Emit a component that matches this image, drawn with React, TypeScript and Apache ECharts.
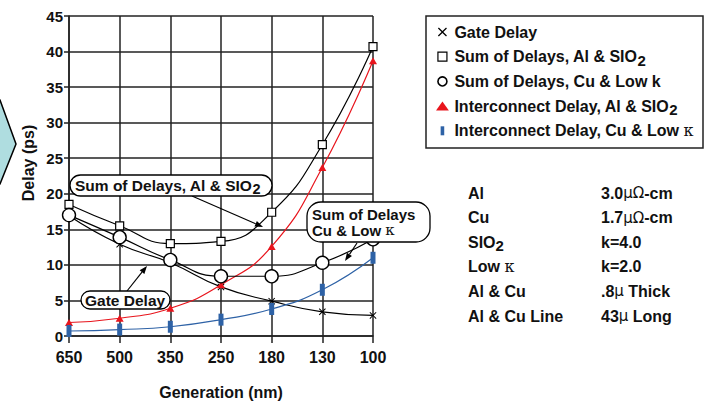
import React, { useEffect, useRef } from 'react';
import * as echarts from 'echarts';

const categories = ['650', '500', '350', '250', '180', '130', '100'];
const gateDelay = [16.9, 12.9, 10.3, 6.9, 4.9, 3.4, 2.9];
const sumAlSiO2 = [18.5, 15.5, 13.0, 13.3, 17.4, 26.9, 40.7];
const sumCuLowK = [17.0, 13.9, 10.7, 8.4, 8.4, 10.3, 13.6];
const interAlSiO2 = [1.9, 2.5, 3.9, 7.2, 12.6, 23.7, 38.7];
const interCuLowK = [0.7, 0.9, 1.3, 2.3, 3.8, 6.5, 11.0];

const seriesNames = [
  'Gate Delay',
  'Sum of Delays, Al & SIO2',
  'Sum of Delays, Cu & Low k',
  'Interconnect Delay, Al & SIO2',
  'Interconnect Delay, Cu & Low κ',
];

const tableLabels = ['Al', 'Cu', 'SIO{sub|2}', 'Low {k|κ}', 'Al & Cu', 'Al & Cu Line'];
const tableValues = ['3.0{m|μΩ}-cm', '1.7{m|μΩ}-cm', 'k=4.0', 'k=2.0', '.8{m|μ} Thick', '43{m|μ} Long'];

const FONT = '"Liberation Sans", Arial, Helvetica, sans-serif';
const RED = '#e8151d';
const BLUE = '#2e62a6';
const XPATH = 'path://M0,1L1,0L5,4L9,0L10,1L6,5L10,9L9,10L5,6L1,10L0,9L4,5Z';

const richBase = (size: number, lh: number) => ({
  sub: { fontSize: size - 1, fontWeight: 'bold', fontFamily: FONT, color: '#111', lineHeight: lh - 7, padding: [7, 0, 0, 0] },
  k: { fontSize: size, fontWeight: 'normal', fontFamily: '"DejaVu Serif", serif', color: '#111', lineHeight: lh },
  m: { fontSize: size - 1, fontWeight: 'normal', fontFamily: '"DejaVu Sans", sans-serif', color: '#333', lineHeight: lh },
});

function arrow(x1: number, y1: number, x2: number, y2: number): any[] {
  const ang = Math.atan2(y2 - y1, x2 - x1);
  const L = 8, W = 3;
  const bx = x2 - L * Math.cos(ang), by = y2 - L * Math.sin(ang);
  const px = -Math.sin(ang) * W, py = Math.cos(ang) * W;
  return [
    { type: 'line', z: 100, shape: { x1, y1, x2: bx, y2: by }, style: { stroke: '#000', lineWidth: 1.2 } },
    { type: 'polygon', z: 100, shape: { points: [[x2, y2], [bx + px, by + py], [bx - px, by - py]] }, style: { fill: '#000' } },
  ];
}

function pill(x: number, y: number, w: number, h: number, text: string, tx: number, lh: number, size: number): any[] {
  return [
    { type: 'rect', z: 100, shape: { x, y, width: w, height: h, r: Math.min(h / 2, 14) }, style: { fill: '#fff', stroke: '#000', lineWidth: 1.3 } },
    {
      type: 'text', z: 101, x: tx, y: y + h / 2,
      style: {
        text, fill: '#111', fontSize: size, fontWeight: 'bold', fontFamily: FONT, lineHeight: lh,
        align: 'left', verticalAlign: 'middle', rich: richBase(size, lh),
      },
    },
  ];
}

export default function App() {
  const ref = useRef<HTMLDivElement>(null);
  useEffect(() => {
    document.body.style.margin = '0';
    const chart = echarts.init(ref.current!, null, { renderer: 'svg' });
    const lineW = 1.2;
    const graphic: any[] = [
      {
        type: 'polygon',
        shape: { points: [[-10, 100], [0, 100], [16, 144], [0, 184], [-10, 184]] },
        style: { fill: '#afdde0', stroke: '#000', lineWidth: 1.5 },
      },
      {
        type: 'text', x: 28, y: 163, rotation: Math.PI / 2,
        style: { text: 'Delay (ps)', fontSize: 16, fontWeight: 'bold', fontFamily: FONT, fill: '#111', align: 'center', verticalAlign: 'middle' },
      },
      {
        type: 'rect', shape: { x: 426, y: 16, width: 277, height: 132 },
        style: { fill: 'none', stroke: '#222', lineWidth: 1.5 },
      },
      ...tableLabels.map((t, i) => ({
        type: 'text', x: 468, y: 193 + i * 24.6,
        style: { text: t, fontSize: 16, fontWeight: 'bold', fontFamily: FONT, fill: '#111', lineHeight: 22, align: 'left', verticalAlign: 'middle', rich: richBase(16, 22) },
      })),
      ...tableValues.map((t, i) => ({
        type: 'text', x: 601, y: 193 + i * 24.6,
        style: { text: t, fontSize: 16, fontWeight: 'bold', fontFamily: FONT, fill: '#111', lineHeight: 22, align: 'left', verticalAlign: 'middle', rich: richBase(16, 22) },
      })),
      ...arrow(192, 196, 263, 227),
      ...arrow(127, 291, 147, 266),
      ...arrow(357, 243, 345, 261),
      ...pill(70, 175, 202, 21, 'Sum of Delays, Al & SIO{sub|2}', 75, 20, 15.5),
      ...pill(81, 291, 89, 18, 'Gate Delay', 85, 18, 15.5),
      ...pill(307, 202, 123, 40, 'Sum of Delays\nCu & Low {k|κ}', 312, 16, 15),
    ];

    const option: any = {
      animation: false,
      backgroundColor: '#fff',
      grid: { left: 69, right: 331, top: 16, bottom: 57 },
      legend: {
        orient: 'vertical', left: 436, top: 21, padding: 0, itemGap: 2.7,
        itemWidth: 14, itemHeight: 9, selectedMode: false,
        textStyle: { fontSize: 16, fontWeight: 'bold', fontFamily: FONT, color: '#111', lineHeight: 22, rich: richBase(16, 22) },
        formatter: (name: string) => name.replace(/SIO2$/, 'SIO{sub|2}').replace('κ', '{k|κ}'),
        data: [
          { name: seriesNames[0], icon: XPATH, itemStyle: { color: '#000', borderWidth: 0 } },
          { name: seriesNames[1], icon: 'path://M0,0h10v10h-10z', itemStyle: { color: '#fff', borderColor: '#000', borderWidth: 1.2 } },
          { name: seriesNames[2], icon: 'circle', itemStyle: { color: '#fff', borderColor: '#000', borderWidth: 1.6 } },
          { name: seriesNames[3], icon: 'path://M5,0L10,7L0,7Z', itemStyle: { color: RED, borderWidth: 0 } },
          { name: seriesNames[4], icon: 'path://M0,0h4v10h-4z', itemStyle: { color: BLUE, borderWidth: 0 } },
        ],
      },
      xAxis: {
        type: 'category', data: categories, boundaryGap: false,
        name: 'Generation (nm)', nameLocation: 'middle', nameGap: 48,
        nameTextStyle: { fontSize: 16, fontWeight: 'bold', fontFamily: FONT, color: '#111' },
        axisLine: { lineStyle: { color: '#222', width: 1.5 } },
        axisTick: { show: true, length: 7, lineStyle: { color: '#222', width: 1.5 } },
        axisLabel: { fontSize: 16, fontWeight: 'bold', fontFamily: FONT, color: '#111', margin: 13 },
        splitLine: { show: true, lineStyle: { color: '#222', width: 1.5 } },
      },
      yAxis: {
        type: 'value', min: 0, max: 45, interval: 5,
        axisLine: { show: true, lineStyle: { color: '#222', width: 1.5 } },
        axisTick: { show: true, length: 5, lineStyle: { color: '#222', width: 1.5 } },
        axisLabel: { fontSize: 15, fontWeight: 'bold', fontFamily: FONT, color: '#111', margin: 6 },
        splitLine: { show: true, lineStyle: { color: '#222', width: 1.5 } },
      },
      graphic,
      series: [
        {
          name: seriesNames[0], type: 'line', data: gateDelay, smooth: true, z: 3,
          symbol: XPATH, symbolSize: 7,
          lineStyle: { color: '#000', width: lineW }, itemStyle: { color: '#000' },
        },
        {
          name: seriesNames[1], type: 'line', data: sumAlSiO2, smooth: true, z: 4,
          symbol: 'rect', symbolSize: 8,
          lineStyle: { color: '#000', width: lineW }, itemStyle: { color: '#fff', borderColor: '#000', borderWidth: 1.2 },
        },
        {
          name: seriesNames[2], type: 'line', data: sumCuLowK, smooth: true, z: 5,
          symbol: 'circle', symbolSize: 13,
          lineStyle: { color: '#000', width: lineW }, itemStyle: { color: '#fff', borderColor: '#000', borderWidth: 1.4 },
        },
        {
          name: seriesNames[3], type: 'line', data: interAlSiO2, smooth: true, z: 3,
          symbol: 'triangle', symbolSize: [8, 7],
          lineStyle: { color: RED, width: lineW }, itemStyle: { color: RED },
        },
        {
          name: seriesNames[4], type: 'line', data: interCuLowK, smooth: true, z: 3,
          symbol: 'rect', symbolSize: [5, 12],
          lineStyle: { color: BLUE, width: lineW }, itemStyle: { color: BLUE },
        },
      ],
    };
    chart.setOption(option);
    return () => chart.dispose();
  }, []);
  return <div ref={ref} style={{ width: 704, height: 405 }} />;
}
